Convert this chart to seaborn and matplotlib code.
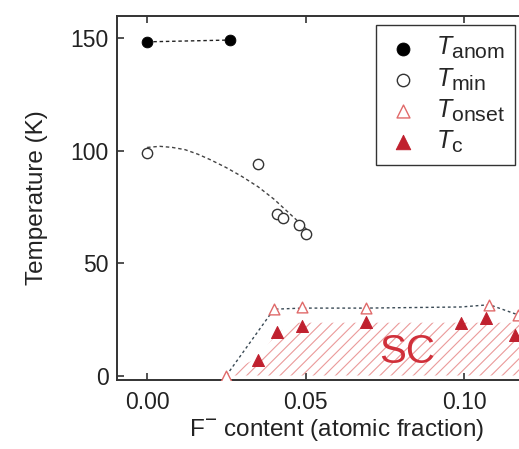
import matplotlib
matplotlib.use("Agg")
import matplotlib.pyplot as plt
import matplotlib._mathtext as mathtext_internal
import seaborn as sns

# Characteristic temperatures vs F- content
anom_x = [0.000, 0.026]
anom_T = [148.5, 149.3]

min_x = [0.000, 0.035, 0.041, 0.043, 0.048, 0.050]
min_T = [99.0, 94.0, 72.0, 70.0, 67.0, 63.0]

onset_x = [0.025, 0.040, 0.049, 0.069, 0.108, 0.117]
onset_T = [0.0, 29.5, 30.5, 30.0, 31.5, 27.0]

tc_x = [0.035, 0.041, 0.049, 0.069, 0.099, 0.107, 0.116]
tc_T = [7.0, 19.5, 22.0, 24.0, 23.5, 25.7, 18.0]

# Guide-to-the-eye curves
min_guide_x = [0.000, 0.004, 0.008, 0.012, 0.016, 0.020, 0.025, 0.030,
               0.035, 0.040, 0.045, 0.050, 0.052]
min_guide_T = [101.5, 102.0, 101.5, 100.5, 98.5, 96.0, 92.5, 88.5,
               84.0, 78.5, 72.0, 65.5, 63.0]
onset_guide_x = [0.025, 0.040, 0.049, 0.069, 0.099, 0.108, 0.117, 0.125]
onset_guide_T = [0.0, 29.5, 30.0, 30.0, 30.5, 31.5, 27.0, 24.0]

# Superconducting region outline
sc_x = [0.024, 0.035, 0.041, 0.047, 0.135, 0.135]
sc_T = [0.0, 8.0, 19.0, 23.5, 23.5, 0.0]

xticks = [0.00, 0.05, 0.10]
yticks = [0, 50, 100, 150]

sns.set_theme(style="ticks")
plt.rcParams.update({
    "font.family": ["Liberation Sans", "DejaVu Sans"],
    "mathtext.fontset": "custom",
    "mathtext.rm": "Liberation Sans",
    "mathtext.it": "Liberation Sans:italic",
    "mathtext.bf": "Liberation Sans:bold",
    "hatch.linewidth": 0.8,
    "axes.edgecolor": "#333333",
    "axes.linewidth": 1.4,
})
# larger subscripts for the legend symbols
mathtext_internal.SHRINK_FACTOR = 0.85

fig = plt.figure(figsize=(5.19, 4.49), dpi=100)
ax = fig.add_axes([117 / 519, 69 / 449, 440 / 519, 364 / 449])

ax.fill(sc_x, sc_T, facecolor="none", edgecolor="#eb9a9a", hatch="///",
        linewidth=0, zorder=1)
ax.text(0.082, 10.5, "SC", color="#d0303a", fontsize=29, ha="center",
        va="center", zorder=2)

guide = dict(sort=False, estimator=None, ax=ax, legend=False)
sns.lineplot(x=anom_x, y=anom_T, color="#222222", lw=1.0, dashes=(2.5, 2), **guide)
sns.lineplot(x=min_guide_x, y=min_guide_T, color="#444444", lw=1.0, dashes=(2.5, 2), **guide)
sns.lineplot(x=onset_guide_x, y=onset_guide_T, color="#3a4a55", lw=1.0, dashes=(2, 2), **guide)
for line in ax.lines:
    line.set_zorder(3)

sns.scatterplot(x=anom_x, y=anom_T, marker="o", s=60, color="black",
                edgecolor="black", label=r"$T_{\rm anom}$", ax=ax, zorder=4)
sns.scatterplot(x=min_x, y=min_T, marker="o", s=55, facecolor="white",
                edgecolor="#333333", linewidth=1.0, label=r"$T_{\rm min}$",
                ax=ax, zorder=4)
sns.scatterplot(x=onset_x, y=onset_T, marker="^", s=60, facecolor="white",
                edgecolor="#e06a6a", linewidth=1.0, label=r"$T_{\rm onset}$",
                ax=ax, zorder=5)
sns.scatterplot(x=tc_x, y=tc_T, marker="^", s=75, color="#c0202e",
                edgecolor="#c0202e", label=r"$T_{\rm c}$", ax=ax, zorder=5)

ax.set_xlim(-0.0095, 0.1293)
ax.set_ylim(-2, 160)
ax.set_xticks(xticks)
ax.set_xticklabels([f"{v:.2f}" for v in xticks])
ax.set_yticks(yticks)
ax.tick_params(direction="in", length=5, width=1.2, labelsize=16.5,
               top=True, right=True, colors="#333333", labelcolor="#222222")
ax.tick_params(axis="x", pad=8)
ax.tick_params(axis="y", pad=6)
ax.spines["right"].set_visible(False)
ax.set_xlabel(r"F$^{-}$ content (atomic fraction)", fontsize=17.5,
              color="#222222", labelpad=2)
ax.set_ylabel("Temperature (K)", fontsize=17.5, color="#222222")
ax.yaxis.set_label_coords(-0.157, 0.5)

leg = ax.legend(loc="upper right", bbox_to_anchor=(0.9045, 0.975),
                borderaxespad=0, fontsize=18, frameon=True, fancybox=False,
                framealpha=1, edgecolor="#333333", handletextpad=0.6,
                labelspacing=0.2, borderpad=0.4, handlelength=1.4,
                markerscale=1.2)
leg.get_frame().set_linewidth(1.0)

fig.savefig("out.png", dpi=100)
